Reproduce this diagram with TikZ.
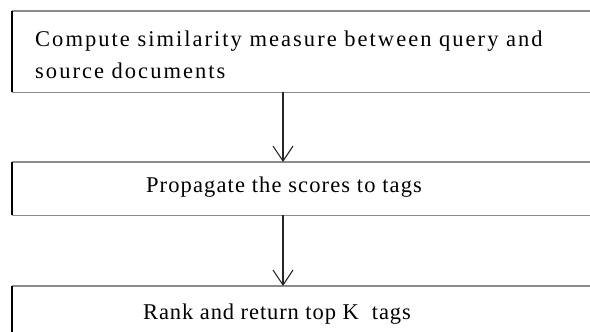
\documentclass[tikz,border=0pt]{standalone}
\usepackage{fontspec}
\setmainfont{Liberation Serif}
\newfontfamily\wideserif{Liberation Serif}[LetterSpace=9]
\newfontfamily\midserif{Liberation Serif}[LetterSpace=5]
\newfontfamily\narrowserif{Liberation Serif}[LetterSpace=4]
\usetikzlibrary{arrows.meta}
\tikzset{
  boxarea/.style={draw=none, rectangle, inner sep=0pt, minimum width=590pt},
  txt/.style={font=\fontsize{22.5}{32}\selectfont, inner sep=0pt},
  edgeline/.style={draw=black!45, line width=1.6pt},
  leftline/.style={draw=black, line width=2.2pt},
  flow/.style={draw=black!85, line width=1.1pt, -{Straight Barb[length=15pt, width=20pt, line width=1.1pt]}}
}
\begin{document}
\begin{tikzpicture}[x=1pt, y=-1pt]
\useasboundingbox (0,0) rectangle (590,332);
\clip (0,0) rectangle (590,332);
% box areas
\node[boxarea, minimum height=81pt, anchor=north west] (b1) at (12,11) {};
\node[boxarea, minimum height=53pt, anchor=north west] (b2) at (12,162) {};
\node[boxarea, minimum height=60pt, anchor=north west] (b3) at (12,286) {};
% borders
\foreach \b in {b1,b2,b3}{
  \draw[edgeline] (\b.north west) -- (\b.north east);
  \draw[edgeline] (\b.south west) -- (\b.south east);
  \draw[leftline] (\b.north west) -- (\b.south west);
}
% texts
\node[txt, anchor=west, align=left] (t1) at (35,55) {\wideserif Compute similarity measure between query and\\\wideserif source documents};
\node[txt] (t2) at (284,187) {\midserif Propagate the scores to tags};
\node[txt] (t3) at (277,314) {\narrowserif Rank and return top K\ \ tags};
% connectors
\coordinate (a1) at (283,92);
\coordinate (a2) at (283,162);
\coordinate (a3) at (283,215);
\coordinate (a4) at (283,286);
\draw[flow] (a1) -- (a2);
\draw[flow] (a3) -- (a4);
\end{tikzpicture}
\end{document}
